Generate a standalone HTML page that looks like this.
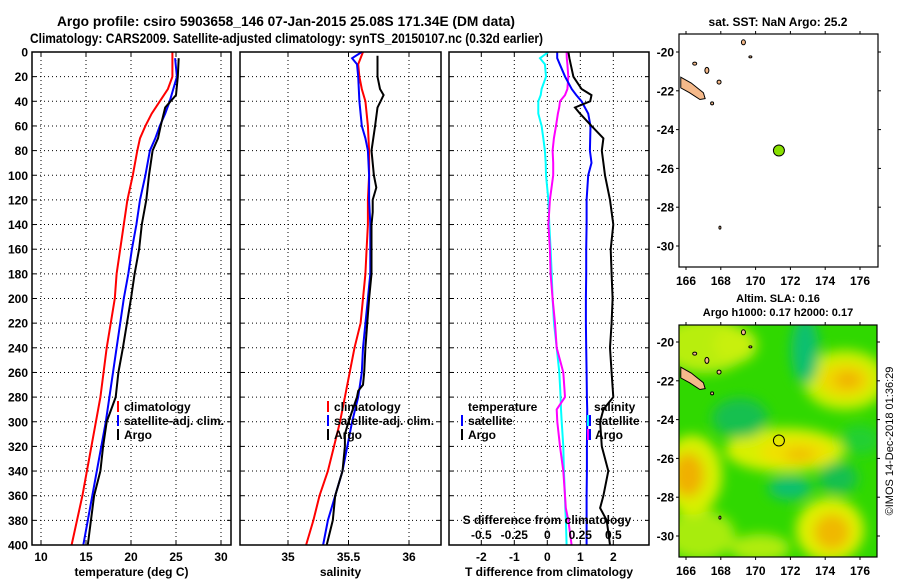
<!DOCTYPE html>
<html><head><meta charset="utf-8"><style>
html,body{margin:0;padding:0;background:#fff;}
svg{display:block;font-family:"Liberation Sans",sans-serif;font-weight:bold;}
</style></head><body>
<svg id="fig" width="900" height="580" viewBox="0 0 900 580" xmlns="http://www.w3.org/2000/svg">
<defs>
<filter id="blur" x="-50%" y="-50%" width="200%" height="200%"><feGaussianBlur stdDeviation="6"/></filter>
<clipPath id="mapclip"><rect x="679" y="325" width="198" height="232"/></clipPath>
</defs>
<text x="57" y="26" font-size="14" textLength="458" lengthAdjust="spacingAndGlyphs">Argo profile: csiro 5903658_146 07-Jan-2015 25.08S 171.34E (DM data)</text>
<text x="30" y="43" font-size="14" textLength="513" lengthAdjust="spacingAndGlyphs">Climatology: CARS2009. Satellite-adjusted climatology: synTS_20150107.nc (0.32d earlier)</text>
<g id="layer"></g>
</svg>
<script>
// ---- data ----
const tDepthsClim = [0,20,30,40,50,60,70,80,100,120,140,160,180,200,240,280,300,320,360,400];
const tempClim    = [24.6,24.6,24.1,23.2,22.3,21.6,21.0,20.7,20.2,19.6,19.2,18.8,18.4,18.2,17.3,16.6,16.1,15.6,14.6,13.4];
const tDepthsSat  = [5,20,30,40,50,60,70,80,100,120,140,160,180,200,240,280,300,320,360,400];
const tempSat     = [24.9,25.1,24.7,24.3,23.8,23.2,22.7,22.1,21.6,21.0,20.6,20.1,19.7,19.2,18.4,17.6,17.2,16.7,15.7,14.7];
const tDepthsArgo = [5,20,35,45,60,70,80,100,120,140,160,180,200,240,260,280,300,320,340,360,400];
const tempArgo    = [25.3,25.2,25.0,23.8,23.3,23.0,22.4,22.0,21.7,21.2,20.9,20.4,20.0,19.1,18.6,18.3,17.3,16.9,16.6,15.9,15.2];

const sDepthsClim = [0,10,20,30,40,60,80,100,120,140,160,180,200,220,240,260,280,300,320,340,360,380,400];
const salClim     = [35.62,35.58,35.59,35.61,35.64,35.66,35.67,35.67,35.66,35.66,35.65,35.64,35.62,35.60,35.55,35.51,35.47,35.43,35.38,35.33,35.26,35.21,35.15];
const sDepthsSat  = [0,5,10,20,40,60,70,80,100,120,140,160,180,200,240,260,280,300,320,340,360,380,400];
const salSat      = [35.61,35.53,35.57,35.58,35.59,35.61,35.64,35.66,35.67,35.67,35.68,35.68,35.68,35.66,35.62,35.61,35.58,35.53,35.49,35.45,35.39,35.33,35.29];
const sDepthsArgo = [3,20,30,35,45,60,80,100,110,120,130,140,160,180,200,240,260,270,275,280,300,310,320,340,360,380,400];
const salArgo     = [35.74,35.74,35.76,35.79,35.74,35.72,35.69,35.71,35.73,35.70,35.70,35.69,35.69,35.69,35.67,35.64,35.63,35.62,35.58,35.57,35.50,35.47,35.47,35.45,35.39,35.37,35.32];

const dDepths   = [0,5,10,20,30,35,40,45,50,60,70,80,90,100,120,140,160,180,200,220,240,260,280,290,300,320,340,360,370,380,400];
const dTempSat  = [0.30,0.30,0.38,0.54,0.74,0.88,1.04,1.14,1.24,1.31,1.30,1.29,1.34,1.24,1.19,1.19,1.18,1.18,1.17,1.17,1.18,1.19,1.20,1.21,1.21,1.20,1.20,1.19,1.19,1.19,1.19];
const dTempArgo = [0.64,0.67,0.71,0.79,1.04,1.34,1.30,0.84,0.99,1.34,1.70,1.65,1.70,1.75,1.90,2.00,1.92,1.95,1.98,1.95,1.90,1.95,2.00,1.70,1.60,1.65,1.85,1.70,1.60,1.80,1.90];
const dSalSat   = [0.008,-0.055,-0.018,-0.010,-0.043,-0.050,-0.068,-0.068,-0.068,-0.043,-0.030,-0.018,-0.012,-0.010,0.008,0.015,0.025,0.033,0.040,0.051,0.071,0.091,0.101,0.104,0.109,0.121,0.126,0.134,0.136,0.141,0.146];
const dSalArgo  = [0.146,0.148,0.152,0.159,0.152,0.134,0.096,0.090,0.080,0.066,0.050,0.040,0.045,0.045,0.020,0.008,0.020,0.025,0.040,0.058,0.071,0.121,0.134,0.071,0.076,0.096,0.121,0.134,0.140,0.159,0.184];

const depthTicks = [0,20,40,60,80,100,120,140,160,180,200,220,240,260,280,300,320,340,360,380,400];
const tempTicks = [10,15,20,25,30];
const salTicks = [35,35.5,36];
const dTTicks = [-2,-1,0,1,2];
const dSTicks = [-0.5,-0.25,0,0.25,0.5];
const dSTickLabels = ["-0.5","-0.25","0","0.25","0.5"];
const lonTicks = [166,168,170,172,174,176];
const latTicks = [-20,-22,-24,-26,-28,-30];
const argoLon = 171.34, argoLat = -25.08;

// ---- scales ----
const yD = d => 52 + d*1.2325;
const xT = t => 41 + (t-10)*9;
const xS = s => 288 + (s-35)*121;
const xDT = t => 547.3 + t*33;
const xDS = s => 547.3 + s*132;
const map1X = lo => 686 + (lo-166)*17.4, map1Y = la => 52 + (-20-la)*19.4;
const map2X = lo => 686 + (lo-166)*17.4, map2Y = la => 342 + (-20-la)*19.4;

const NS = "http://www.w3.org/2000/svg";
const layer = document.getElementById('layer');
function mk(tag, attrs, parent){
  const e = document.createElementNS(NS, tag);
  for (const k in attrs) e.setAttribute(k, attrs[k]);
  (parent||layer).appendChild(e); return e;
}
function txt(x,y,s,size,anchor,parent){
  const t = mk('text',{x:x,y:y,'font-size':size||12,'text-anchor':anchor||'start'},parent);
  t.textContent = s; return t;
}

function panel(name, x0, x1, xTicks, xf, xLabels, title, yLabels){
  const g = mk('g',{});
  
  
  const y0 = 52, y1 = 545;
  depthTicks.forEach(d=>{
    if (d===0||d===400) return;
    const l = mk('line',{x1:x0,x2:x1,y1:yD(d),y2:yD(d),stroke:'#000','stroke-width':1,'stroke-dasharray':'1,3'},g);
    
    
  });
  xTicks.forEach((v,i)=>{
    const l = mk('line',{x1:xf(v),x2:xf(v),y1:y0,y2:y1,stroke:'#000','stroke-width':1,'stroke-dasharray':'1,3'},g);
    
    
    mk('line',{x1:xf(v),x2:xf(v),y1:y1,y2:y1-4,stroke:'#000'},g);
    mk('line',{x1:xf(v),x2:xf(v),y1:y0,y2:y0+4,stroke:'#000'},g);
    const t = txt(xf(v), 561, xLabels[i], 12, 'middle', g);
    
    
  });
  depthTicks.forEach(d=>{
    mk('line',{x1:x0,x2:x0+4,y1:yD(d),y2:yD(d),stroke:'#000'},g);
    mk('line',{x1:x1,x2:x1-4,y1:yD(d),y2:yD(d),stroke:'#000'},g);
    if (yLabels){
      const t = txt(28, yD(d)+4.5, String(d), 12, 'end', g);
      
      
    }
  });
  const tt = txt((x0+x1)/2, 576, title, 12, 'middle', g);
  
  
  return g;
}
function frame(name,x0,x1){
  const r = mk('rect',{x:x0,y:52,width:x1-x0,height:493,fill:'none',stroke:'#000','stroke-width':1.5});
  
  
}
function series(name, depths, vals, xf, color, w){
  const pts = depths.map((d,i)=> xf(vals[i]).toFixed(1)+','+yD(d).toFixed(1)).join(' ');
  const p = mk('polyline',{points:pts,fill:'none',stroke:color,'stroke-width':w||2,'stroke-linejoin':'miter'});
  
  
}
function legendEntry(name, x, y, color, label){
  const g = mk('g',{});
  
  
  if (color) mk('rect',{x:x,y:y-10,width:2,height:11,fill:color},g);
  txt(x+7, y, label, 12, 'start', g);
}

// Panel 1 temperature
panel('temperature-panel', 32, 231, tempTicks, xT, tempTicks.map(String), 'temperature (deg C)', true);
series('temp-climatology-line', tDepthsClim, tempClim, xT, '#ff0000');
series('temp-satellite-line', tDepthsSat, tempSat, xT, '#0000ff');
series('temp-argo-line', tDepthsArgo, tempArgo, xT, '#000000');
legendEntry('legend-climatology', 117, 411, '#ff0000', 'climatology');
legendEntry('legend-satellite-adj', 117, 425, '#0000ff', 'satellite-adj. clim.');
legendEntry('legend-argo', 117, 439, '#000000', 'Argo');
frame('temperature-frame', 32, 231);

// Panel 2 salinity
panel('salinity-panel', 240, 441, salTicks, xS, ['35','35.5','36'], 'salinity', false);
series('sal-climatology-line', sDepthsClim, salClim, xS, '#ff0000');
series('sal-satellite-line', sDepthsSat, salSat, xS, '#0000ff');
series('sal-argo-line', sDepthsArgo, salArgo, xS, '#000000');
legendEntry('legend-sal-climatology', 327, 411, '#ff0000', 'climatology');
legendEntry('legend-sal-satellite-adj', 327, 425, '#0000ff', 'satellite-adj. clim.');
legendEntry('legend-sal-argo', 327, 439, '#000000', 'Argo');
frame('salinity-frame', 240, 441);

// Panel 3 differences
panel('difference-panel', 449, 649, dTTicks, xDT, dTTicks.map(String), 'T difference from climatology', false);
series('dsal-satellite-line', dDepths, dSalSat, xDS, '#00ffff');
series('dsal-argo-line', dDepths, dSalArgo, xDS, '#ff00ff');
series('dtemp-satellite-line', dDepths, dTempSat, xDT, '#0000ff');
series('dtemp-argo-line', dDepths, dTempArgo, xDT, '#000000');
txt(468, 411, 'temperature', 12, 'start');
legendEntry('legend-dtemp-satellite', 461, 425, '#0000ff', 'satellite');
legendEntry('legend-dtemp-argo', 461, 439, '#000000', 'Argo');
txt(594, 411, 'salinity', 12, 'start');
mk('rect',{x:587,y:415,width:2,height:11,fill:'#00ffff'});
mk('rect',{x:589,y:415,width:2,height:11,fill:'#0000ff'});
mk('rect',{x:587,y:429,width:2,height:11,fill:'#ff00ff'});
mk('rect',{x:589,y:429,width:2,height:11,fill:'#0000ff'});
legendEntry('legend-dsal-satellite', 588, 425, null, 'satellite');
legendEntry('legend-dsal-argo', 588, 439, null, 'Argo');
const st = txt(547, 524, 'S difference from climatology', 12, 'middle');


dSTicks.forEach((v,i)=>{
  const t = txt(xDS(v), 539, dSTickLabels[i], 12, 'middle');
  
  
});
frame('difference-frame', 449, 649);

// ---- maps ----
function mapAxes(name, x0,y0,w,h, xf, yf, labelY){
  const g = mk('g',{});
  
  
  mk('rect',{x:x0,y:y0,width:w,height:h,fill:'none',stroke:'#000','stroke-width':1.2},g);
  lonTicks.forEach(lo=>{
    mk('line',{x1:xf(lo),x2:xf(lo),y1:y0,y2:y0-3,stroke:'#000'},g);
    mk('line',{x1:xf(lo),x2:xf(lo),y1:y0+h,y2:y0+h+3,stroke:'#000'},g);
    const t = txt(xf(lo), labelY, String(lo), 12, 'middle', g);
    
    
  });
  latTicks.forEach(la=>{
    mk('line',{x1:x0,x2:x0-3,y1:yf(la),y2:yf(la),stroke:'#000'},g);
    mk('line',{x1:x0+w,x2:x0+w+3,y1:yf(la),y2:yf(la),stroke:'#000'},g);
    const t = txt(x0-5, yf(la)+4.5, String(la), 12, 'end', g);
    
    
  });
}
function islands(xf, yf, g){
  const ncal = [[165.7,-21.3],[166.3,-21.6],[167.0,-22.1],[167.1,-22.4],[166.8,-22.45],[166.2,-22.1],[165.7,-21.85]];
  mk('polygon',{points:ncal.map(p=>xf(p[0])+','+yf(p[1])).join(' '),fill:'#f5b98a',stroke:'#000','stroke-width':1},g);
  [[167.2,-20.95,2,3],[167.9,-21.55,2,2],[169.3,-19.5,2,2.5],[166.5,-20.6,2,1.5],[167.5,-22.65,1.5,1.5],[169.7,-20.25,1.5,1],[167.95,-29.05,1,1.5]].forEach(p=>{
    mk('ellipse',{cx:xf(p[0]),cy:yf(p[1]),rx:p[2],ry:p[3],fill:'#f5b98a',stroke:'#000','stroke-width':1},g);
  });
}
// top map
const m1 = mk('g',{});


mk('rect',{x:679,y:34,width:199,height:233,fill:'#fff'},m1);
islands(map1X, map1Y, m1);
const dot = mk('circle',{cx:map1X(argoLon),cy:map1Y(argoLat),r:5.5,fill:'#88e000',stroke:'#000','stroke-width':1},m1);


mapAxes('sst-map-axes', 679,34,199,233, map1X, map1Y, 285);
txt(778, 26, 'sat. SST: NaN Argo: 25.2', 12, 'middle');

// bottom map
const m2 = mk('g',{'clip-path':'url(#mapclip)'});


mk('rect',{x:679,y:325,width:198,height:232,fill:'#30d800'},m2);
const blobs = mk('g',{filter:'url(#blur)'},m2);
[
 [705,345,45,28,'#b8ee10'],[700,535,35,25,'#a8ec10'],[845,380,42,30,'#ccf000'],[845,380,26,17,'#f0d800'],[848,380,13,8,'#f0b000'],
 [785,450,60,22,'#d8f000'],[795,452,36,13,'#f0e000'],[800,455,15,7,'#f0c000'],[692,475,30,40,'#d8f000'],[688,475,16,22,'#f0b000'],
 [830,530,34,32,'#e0f000'],[832,532,18,18,'#f0b800'],[805,350,14,34,'#10c070'],[740,418,28,20,'#18c050'],
 [790,488,22,12,'#10c070'],[838,478,20,16,'#18c050'],[735,345,22,18,'#c8f010'],[760,548,30,14,'#b0ec10'],[860,440,20,15,'#20d030']
].forEach(b=>mk('ellipse',{cx:b[0],cy:b[1],rx:b[2],ry:b[3],fill:b[4]},blobs));
islands(map2X, map2Y, m2);
const circ = mk('circle',{cx:map2X(argoLon),cy:map2Y(argoLat),r:5.5,fill:'none',stroke:'#000','stroke-width':1});


mapAxes('sla-map-axes', 679,325,198,232, map2X, map2Y, 575);
txt(778, 302, 'Altim. SLA: 0.16', 11, 'middle');
txt(778, 316, 'Argo h1000: 0.17 h2000: 0.17', 11, 'middle');
const cp = txt(0,0,'©IMOS 14-Dec-2018 01:36:29', 11, 'middle');
cp.setAttribute('transform','translate(893,441) rotate(-90)');
cp.setAttribute('font-weight','normal');


</script>
</body></html>
